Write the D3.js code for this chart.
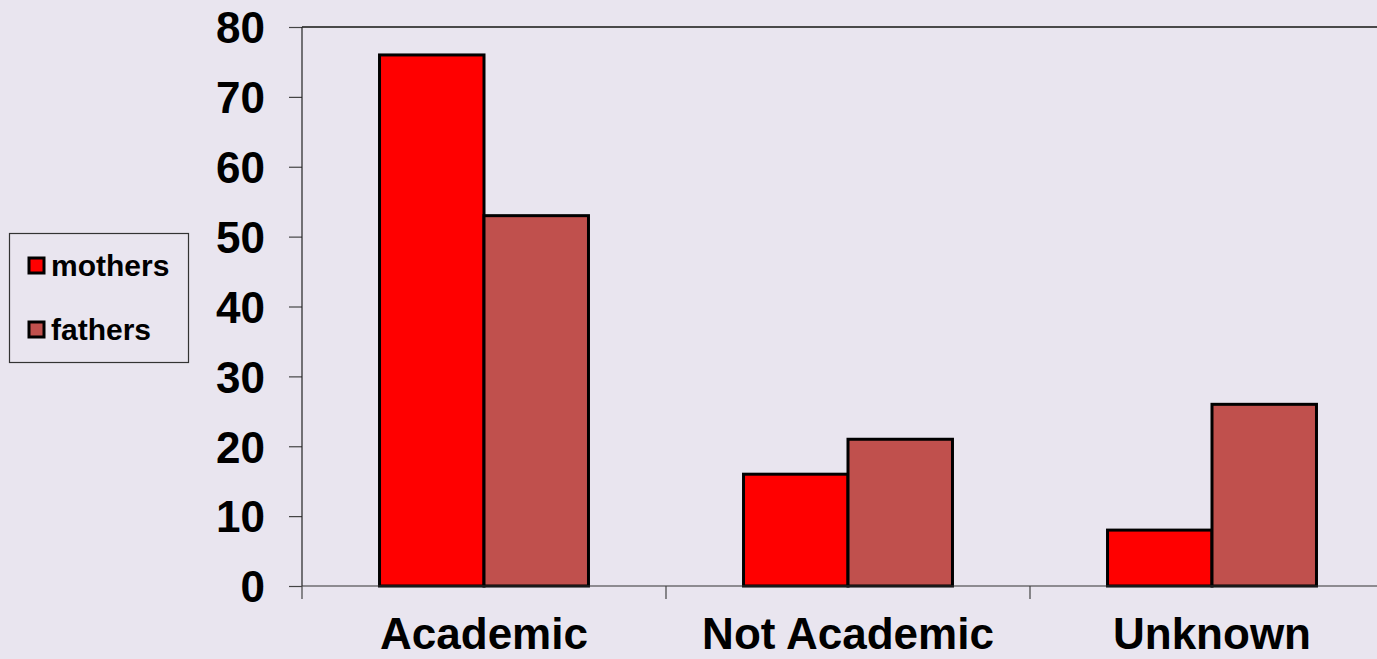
<!DOCTYPE html>
<html>
<head>
<meta charset="utf-8">
<script src="https://cdn.jsdelivr.net/npm/d3@7"></script>
<style>
  html, body { margin: 0; padding: 0; background: #E9E5EF; }
  svg { display: block; }
  text { font-family: Arial, "Liberation Sans", sans-serif; font-weight: bold; fill: #000; }
</style>
</head>
<body>
<svg id="chart" width="1377" height="659"></svg>
<script>
// Parents' education background, counts per category
const categories = ["Academic", "Not Academic", "Unknown"];
const seriesNames = ["mothers", "fathers"];
const mothers = [76, 16, 8];
const fathers = [53, 21, 26];
const yTicks = [0, 10, 20, 30, 40, 50, 60, 70, 80];
const seriesColors = ["#FF0000", "#C0504D"];

const values = [mothers, fathers];
const W = 1377, H = 659;
const plot = { left: 302, top: 27, bottom: 586, step: 364 };

const svg = d3.select("#chart");

const x0 = d3.scaleBand()
  .domain(categories)
  .range([plot.left, plot.left + plot.step * categories.length])
  .paddingInner(0).paddingOuter(0);

const x1 = d3.scaleBand()
  .domain(seriesNames)
  .range([0, x0.bandwidth()])
  .paddingInner(0)
  .paddingOuter(0.742);

const y = d3.scaleLinear().domain([0, 80]).range([plot.bottom, plot.top]);

// top frame line of the plot area
svg.append("line")
  .attr("x1", plot.left).attr("x2", W)
  .attr("y1", y(80)).attr("y2", y(80))
  .attr("stroke", "#4a4a4a").attr("stroke-width", 2);

// bars
const groups = svg.append("g").selectAll("g")
  .data(categories)
  .join("g")
  .attr("transform", d => `translate(${x0(d)},0)`);

groups.selectAll("rect")
  .data((c, i) => seriesNames.map((s, j) => ({ s, j, v: values[j][i] })))
  .join("rect")
  .attr("x", d => x1(d.s))
  .attr("y", d => y(d.v))
  .attr("width", x1.bandwidth())
  .attr("height", d => y(0) - y(d.v))
  .attr("fill", d => seriesColors[d.j])
  .attr("stroke", "#000")
  .attr("stroke-width", 3);

// y axis
const yAxis = d3.axisLeft(y)
  .tickValues(yTicks)
  .tickSize(13)
  .tickPadding(24);
const yg = svg.append("g")
  .attr("transform", `translate(${plot.left},0)`)
  .call(yAxis);
yg.select(".domain").remove();
yg.append("line")
  .attr("x1", 0).attr("x2", 0)
  .attr("y1", y(80)).attr("y2", plot.bottom)
  .attr("stroke", "#222").attr("stroke-width", 1.2);
yg.selectAll(".tick line").attr("stroke", "#444").attr("stroke-width", 1.2);
yg.selectAll(".tick text")
  .attr("font-size", 44)
  .attr("dy", "0.36em");

// x axis: boundary ticks between categories
const xg = svg.append("g");
xg.append("line")
  .attr("x1", plot.left).attr("x2", W)
  .attr("y1", plot.bottom).attr("y2", plot.bottom)
  .attr("stroke", "#333").attr("stroke-width", 1.2);
xg.selectAll("line.bound")
  .data(categories)
  .join("line")
  .attr("class", "bound")
  .attr("x1", d => x0(d)).attr("x2", d => x0(d))
  .attr("y1", plot.bottom).attr("y2", plot.bottom + 13)
  .attr("stroke", "#444").attr("stroke-width", 1.2);
xg.selectAll("text")
  .data(categories)
  .join("text")
  .attr("x", d => x0(d) + x0.bandwidth() / 2)
  .attr("y", 649)
  .attr("text-anchor", "middle")
  .attr("font-size", 44)
  .text(d => d);

// legend
const legend = svg.append("g");
legend.append("rect")
  .attr("x", 9.5).attr("y", 233.5)
  .attr("width", 179).attr("height", 129)
  .attr("fill", "none")
  .attr("stroke", "#333").attr("stroke-width", 1.2);
const items = legend.selectAll("g.item")
  .data(seriesNames)
  .join("g")
  .attr("class", "item")
  .attr("transform", (d, i) => `translate(0,${i * 64})`);
items.append("rect")
  .attr("x", 29).attr("y", 258)
  .attr("width", 15).attr("height", 15)
  .attr("fill", (d, i) => seriesColors[i])
  .attr("stroke", "#000").attr("stroke-width", 3);
items.append("text")
  .attr("x", 51).attr("y", 276)
  .attr("font-size", 30)
  .text(d => d);
</script>
</body>
</html>
